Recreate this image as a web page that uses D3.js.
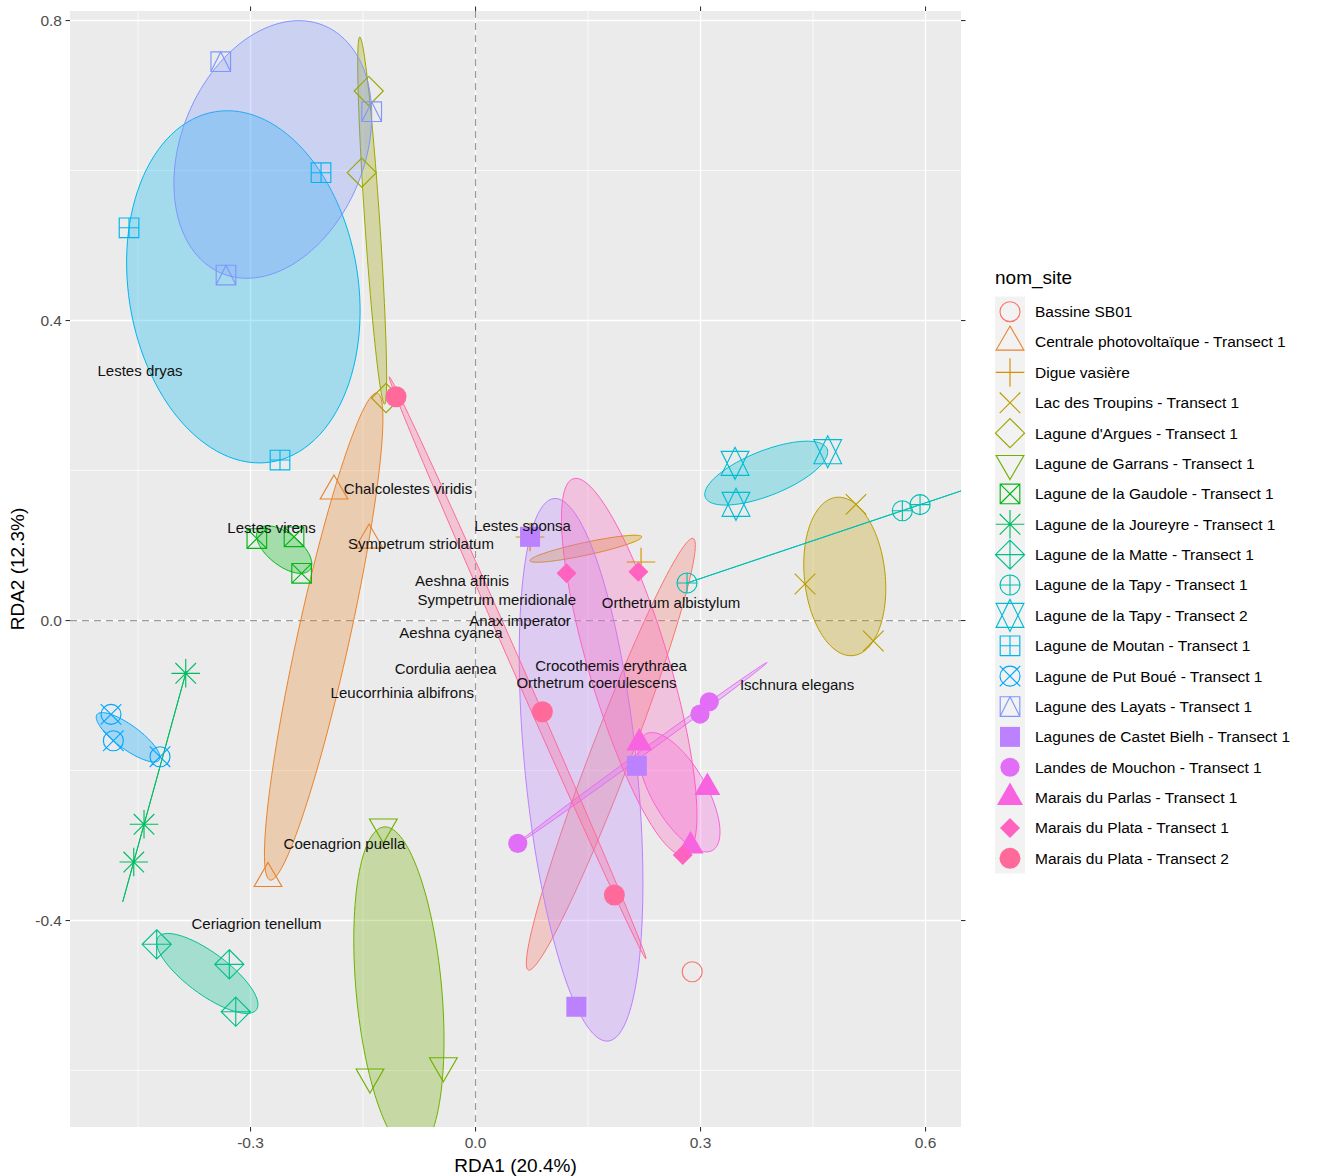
<!DOCTYPE html>
<html><head><meta charset="utf-8">
<script src="https://cdn.jsdelivr.net/npm/d3@7"></script>
<style>
body{margin:0;background:#fff;}
text{font-family:"Liberation Sans", Arial, Helvetica, sans-serif;}
</style>
</head><body>
<svg id="chart" width="1317" height="1176"></svg>
<script>
// ---------------- DATA ----------------
const sites = ["Bassine SB01", "Centrale photovoltaïque - Transect 1", "Digue vasière",
  "Lac des Troupins - Transect 1", "Lagune d'Argues - Transect 1", "Lagune de Garrans - Transect 1",
  "Lagune de la Gaudole - Transect 1", "Lagune de la Joureyre - Transect 1", "Lagune de la Matte - Transect 1",
  "Lagune de la Tapy - Transect 1", "Lagune de la Tapy - Transect 2", "Lagune de Moutan - Transect 1",
  "Lagune de Put Boué - Transect 1", "Lagune des Layats - Transect 1", "Lagunes de Castet Bielh - Transect 1",
  "Landes de Mouchon - Transect 1", "Marais du Parlas - Transect 1", "Marais du Plata - Transect 1",
  "Marais du Plata - Transect 2"];
const siteShapes = [1,2,3,4,5,6,7,8,9,10,11,12,13,14,15,16,17,18,19];

// site scores (RDA1, RDA2), one sub-array per site
const siteRDA1 = [
  [0.2889],
  [-0.1887, -0.1420, -0.2767],
  [0.0727, 0.2207],
  [0.5073, 0.4393, 0.5304],
  [-0.1424, -0.1517, -0.1193],
  [-0.1229, -0.1407, -0.0429],
  [-0.2916, -0.2420, -0.2319],
  [-0.3864, -0.4420, -0.4557],
  [-0.4251, -0.3283, -0.3197],
  [0.2820, 0.5691, 0.5927],
  [0.3460, 0.4696, 0.3473],
  [-0.4620, -0.2060, -0.2607],
  [-0.4860, -0.4829, -0.4207],
  [-0.3397, -0.1384, -0.3327],
  [0.0727, 0.2151, 0.1344],
  [0.0563, 0.3117, 0.2993],
  [0.2184, 0.3091, 0.2867],
  [0.1213, 0.2171, 0.2763],
  [-0.1060, 0.0891, 0.1851]
];
const siteRDA2 = [
  [-0.4683],
  [0.1727, 0.1073, -0.3440],
  [0.1113, 0.0780],
  [0.1549, 0.0487, -0.0273],
  [0.7060, 0.5971, 0.2967],
  [-0.2753, -0.6087, -0.5936],
  [0.1093, 0.1116, 0.0629],
  [-0.0704, -0.2717, -0.3220],
  [-0.4317, -0.4584, -0.5216],
  [0.0500, 0.1464, 0.1545],
  [0.2096, 0.2251, 0.1549],
  [0.5237, 0.5971, 0.2140],
  [-0.1251, -0.1603, -0.1816],
  [0.7451, 0.6784, 0.4607],
  [0.1116, -0.1937, -0.5150],
  [-0.2971, -0.1083, -0.1247],
  [-0.1633, -0.2227, -0.3007],
  [0.0629, 0.0651, -0.3127],
  [0.2984, -0.1216, -0.3660]
];

// ellipses for sites whose points do not define them
const fixedEllipseSite  = ["Bassine SB01", "Digue vasière"];
const fixedEllipseRDA1  = [0.1804, 0.1471];
const fixedEllipseRDA2  = [-0.1783, 0.0957];
const fixedEllipseMajor = [0.3080, 0.0762];
const fixedEllipseMinor = [0.0267, 0.0085];
const fixedEllipseAngle = [69.1, 12.1];

// species labels
const species = ["Lestes dryas", "Chalcolestes viridis", "Lestes virens", "Lestes sponsa",
  "Sympetrum striolatum", "Aeshna affinis", "Sympetrum meridionale", "Orthetrum albistylum",
  "Anax imperator", "Aeshna cyanea", "Cordulia aenea", "Crocothemis erythraea",
  "Orthetrum coerulescens", "Leucorrhinia albifrons", "Ischnura elegans", "Coenagrion puella",
  "Ceriagrion tenellum"];
const speciesRDA1 = [-0.4473, -0.0900, -0.2720, 0.0627, -0.0727, -0.0180, 0.0284, 0.2607,
  0.0593, -0.0327, -0.0400, 0.1807, 0.1613, -0.0976, 0.4287, -0.1747, -0.2920];
const speciesRDA2 = [0.3327, 0.1753, 0.1233, 0.1260, 0.1020, 0.0527, 0.0273, 0.0238,
  -0.0007, -0.0160, -0.0637, -0.0607, -0.0825, -0.0962, -0.0851, -0.2971, -0.4047];

const xLimits = [-0.5407, 0.6473];
const yLimits = [-0.6753, 0.8127];
const xBreaks = [-0.3, 0.0, 0.3, 0.6];
const xBreakLabels = ["-0.3", "0.0", "0.3", "0.6"];
const xMinor = [-0.45, -0.15, 0.15, 0.45];
const yBreaks = [-0.4, 0.0, 0.4, 0.8];
const yBreakLabels = ["-0.4", "0.0", "0.4", "0.8"];
const yMinor = [-0.6, -0.2, 0.2, 0.6];
const xTitle = "RDA1 (20.4%)";
const yTitle = "RDA2 (12.3%)";
const legendTitle = "nom_site";

// ---------------- COLOURS (ggplot2 hue palette, polar LUV) ----------------
function hclHex(h, c, l) {
  const WX = 95.047, WY = 100.0, WZ = 108.883;
  const hr = h * Math.PI / 180;
  const U = c * Math.cos(hr), V = c * Math.sin(hr);
  const Y = WY * (l > 7.999592 ? Math.pow((l + 16) / 116, 3) : l / 903.3);
  const den = WX + 15 * WY + 3 * WZ;
  const uN = 4 * WX / den, vN = 9 * WY / den;
  const u = U / (13 * l) + uN, v = V / (13 * l) + vN;
  const X = 9.0 * Y * u / (4 * v);
  const Z = -X / 3 - 5 * Y + 3 * Y / v;
  const g = t => t > 0.00304 ? 1.055 * Math.pow(t, 1 / 2.4) - 0.055 : 12.92 * t;
  const cl = t => Math.max(0, Math.min(255, Math.round(255 * g(t))));
  const r = cl((3.240479 * X - 1.537150 * Y - 0.498535 * Z) / WY);
  const gg = cl((-0.969256 * X + 1.875992 * Y + 0.041556 * Z) / WY);
  const b = cl((0.055648 * X - 0.204043 * Y + 1.057311 * Z) / WY);
  return d3.rgb(r, gg, b).formatHex();
}
const nS = sites.length;
const colors = sites.map((s, i) => hclHex(15 + i * 360 / nS, 100, 65));
const colorOf = d3.scaleOrdinal().domain(sites).range(colors);

// ---------------- LAYOUT ----------------
const svg = d3.select("#chart");
const P = {left: 70, right: 961, top: 11, bottom: 1127};
const x = d3.scaleLinear().domain(xLimits).range([P.left, P.right]);
const y = d3.scaleLinear().domain(yLimits).range([P.bottom, P.top]);

svg.append("defs").append("clipPath").attr("id", "panelClip")
  .append("rect").attr("x", P.left).attr("y", P.top)
  .attr("width", P.right - P.left).attr("height", P.bottom - P.top);

svg.append("rect").attr("x", P.left).attr("y", P.top)
  .attr("width", P.right - P.left).attr("height", P.bottom - P.top).attr("fill", "#EBEBEB");

const grid = svg.append("g");
grid.selectAll(".xmin").data(xMinor).join("line")
  .attr("x1", d => x(d)).attr("x2", d => x(d)).attr("y1", P.top).attr("y2", P.bottom)
  .attr("stroke", "#fff").attr("stroke-width", 0.7);
grid.selectAll(".ymin").data(yMinor).join("line")
  .attr("y1", d => y(d)).attr("y2", d => y(d)).attr("x1", P.left).attr("x2", P.right)
  .attr("stroke", "#fff").attr("stroke-width", 0.7);
grid.selectAll(".xmaj").data(xBreaks).join("line")
  .attr("x1", d => x(d)).attr("x2", d => x(d)).attr("y1", P.top).attr("y2", P.bottom)
  .attr("stroke", "#fff").attr("stroke-width", 1.4);
grid.selectAll(".ymaj").data(yBreaks).join("line")
  .attr("y1", d => y(d)).attr("y2", d => y(d)).attr("x1", P.left).attr("x2", P.right)
  .attr("stroke", "#fff").attr("stroke-width", 1.4);

const panel = svg.append("g").attr("clip-path", "url(#panelClip)");

// zero reference lines
panel.append("line").attr("x1", x(0)).attr("x2", x(0)).attr("y1", P.top).attr("y2", P.bottom)
  .attr("stroke", "#9a9a9a").attr("stroke-width", 1.2).attr("stroke-dasharray", "7,5");
panel.append("line").attr("y1", y(0)).attr("y2", y(0)).attr("x1", P.left).attr("x2", P.right)
  .attr("stroke", "#9a9a9a").attr("stroke-width", 1.2).attr("stroke-dasharray", "7,5");

// ---------------- ELLIPSES ----------------
function ellipsePts(cx, cy, a, b, theta) {
  const pts = [];
  for (let k = 0; k < 120; k++) {
    const t = 2 * Math.PI * k / 120;
    pts.push([cx + a * Math.cos(t) * Math.cos(theta) - b * Math.sin(t) * Math.sin(theta),
              cy + a * Math.cos(t) * Math.sin(theta) + b * Math.sin(t) * Math.cos(theta)]);
  }
  return pts;
}
function covEllipse(xs, ys) {
  const n = xs.length;
  const mx = d3.mean(xs), my = d3.mean(ys);
  let sxx = 0, syy = 0, sxy = 0;
  for (let i = 0; i < n; i++) {
    const dx = xs[i] - mx, dy = ys[i] - my;
    sxx += dx * dx; syy += dy * dy; sxy += dx * dy;
  }
  sxx /= n; syy /= n; sxy /= n;
  const tr = sxx + syy, det = sxx * syy - sxy * sxy;
  const disc = Math.sqrt(Math.max(tr * tr / 4 - det, 0));
  const l1 = tr / 2 + disc, l2 = Math.max(tr / 2 - disc, 0);
  const theta = 0.5 * Math.atan2(2 * sxy, sxx - syy);
  const rad = Math.sqrt(2);
  return ellipsePts(mx, my, rad * Math.sqrt(l1), rad * Math.sqrt(l2), theta);
}
const ellipses = [];
sites.forEach((s, i) => {
  const fi = fixedEllipseSite.indexOf(s);
  if (fi >= 0) {
    ellipses.push({site: s, pts: ellipsePts(fixedEllipseRDA1[fi], fixedEllipseRDA2[fi],
      fixedEllipseMajor[fi], fixedEllipseMinor[fi], fixedEllipseAngle[fi] * Math.PI / 180)});
  } else if (siteRDA1[i].length >= 3) {
    ellipses.push({site: s, pts: covEllipse(siteRDA1[i], siteRDA2[i])});
  }
});
const line = d3.line().x(d => x(d[0])).y(d => y(d[1])).curve(d3.curveLinearClosed);
panel.selectAll(".ell").data(ellipses).join("path")
  .attr("d", d => line(d.pts))
  .attr("fill", d => colorOf(d.site)).attr("fill-opacity", 0.3)
  .attr("stroke", d => colorOf(d.site)).attr("stroke-width", 1);

// ---------------- POINT SHAPES ----------------
const R = 10.3;
const S2 = Math.SQRT2, TRC0 = 1.55512030155621416073, TRC1 = 1.34677368708859836060, TRC2 = 0.77756015077810708036;
function circ(r) { return `M${-r},0A${r},${r} 0 1,0 ${r},0A${r},${r} 0 1,0 ${-r},0Z`; }
function sq(s) { return `M${-s},${-s}H${s}V${s}H${-s}Z`; }
function plus(a) { return `M${-a},0H${a}M0,${-a}V${a}`; }
function cross(a) { return `M${-a},${-a}L${a},${a}M${-a},${a}L${a},${-a}`; }
function diam(a) { return `M0,${-a}L${a},0L0,${a}L${-a},0Z`; }
function triUp(r) { const xc = r * Math.sqrt(3) / 2, yc = r / 2; return `M0,${-r}L${xc},${yc}L${-xc},${yc}Z`; }
function triDown(r) { const xc = r * Math.sqrt(3) / 2, yc = r / 2; return `M0,${r}L${xc},${-yc}L${-xc},${-yc}Z`; }
function shapeSpec(pch) {
  const s = 9.8;
  switch (pch) {
    case 1: return {d: circ(R * 0.97), fill: false};
    case 2: return {d: triUp(TRC0 * R), fill: false};
    case 3: return {d: plus(S2 * R * 0.98), fill: false};
    case 4: return {d: cross(R), fill: false};
    case 5: return {d: diam(S2 * R), fill: false};
    case 6: return {d: triDown(TRC0 * R), fill: false};
    case 7: return {d: sq(s) + cross(s), fill: false};
    case 8: return {d: cross(R) + plus(S2 * R * 0.98), fill: false};
    case 9: return {d: diam(S2 * R) + plus(S2 * R), fill: false};
    case 10: return {d: circ(R * 0.97) + plus(R * 0.97), fill: false};
    case 11: {
      const r = TRC0 * R, yc = 0.5 * (TRC2 * R + r), xc = TRC1 * R;
      return {d: `M0,${-r}L${xc},${yc}L${-xc},${yc}Z M0,${r}L${xc},${-yc}L${-xc},${-yc}Z`, fill: false};
    }
    case 12: return {d: sq(s) + plus(s), fill: false};
    case 13: return {d: circ(R * 0.97) + cross(R), fill: false};
    case 14: return {d: sq(s) + `M${-s},${s}L0,${-s}L${s},${s}`, fill: false};
    case 15: return {d: sq(10), fill: true};
    case 16: return {d: circ(9.6), fill: true};
    case 17: return {d: triUp(15), fill: true};
    case 18: return {d: diam(10), fill: true};
    case 19: return {d: circ(10.5), fill: true};
  }
}
function drawShape(g, pch, cx, cy, col) {
  const sp = shapeSpec(pch);
  g.append("path").attr("d", sp.d).attr("transform", `translate(${cx},${cy})`)
    .attr("fill", sp.fill ? col : "none").attr("stroke", sp.fill ? "none" : col)
    .attr("stroke-width", 1.15).attr("stroke-linejoin", "miter");
}

const pointsG = panel.append("g");
sites.forEach((s, i) => {
  siteRDA1[i].forEach((vx, j) => {
    drawShape(pointsG, siteShapes[i], x(vx), y(siteRDA2[i][j]), colorOf(s));
  });
});

// ---------------- SPECIES LABELS ----------------
panel.append("g").selectAll("text").data(species).join("text")
  .attr("x", (d, i) => x(speciesRDA1[i])).attr("y", (d, i) => y(speciesRDA2[i]))
  .attr("dy", "0.35em").attr("text-anchor", "middle")
  .attr("font-size", 15).attr("fill", "#111").text(d => d);

// ---------------- AXES ----------------
const tickCol = "#333333", tl = 4.5;
const axes = svg.append("g");
xBreaks.forEach((v, i) => {
  axes.append("line").attr("x1", x(v)).attr("x2", x(v)).attr("y1", P.bottom).attr("y2", P.bottom + tl)
    .attr("stroke", tickCol).attr("stroke-width", 1.1);
  axes.append("line").attr("x1", x(v)).attr("x2", x(v)).attr("y1", P.top - tl).attr("y2", P.top)
    .attr("stroke", tickCol).attr("stroke-width", 1.1);
  axes.append("text").attr("x", x(v)).attr("y", P.bottom + 16).attr("dy", "0.35em")
    .attr("text-anchor", "middle").attr("font-size", 15.5).attr("fill", "#4D4D4D").text(xBreakLabels[i]);
});
yBreaks.forEach((v, i) => {
  axes.append("line").attr("y1", y(v)).attr("y2", y(v)).attr("x1", P.left - tl).attr("x2", P.left)
    .attr("stroke", tickCol).attr("stroke-width", 1.1);
  axes.append("line").attr("y1", y(v)).attr("y2", y(v)).attr("x1", P.right).attr("x2", P.right + tl)
    .attr("stroke", tickCol).attr("stroke-width", 1.1);
  axes.append("text").attr("x", P.left - 8).attr("y", y(v)).attr("dy", "0.35em")
    .attr("text-anchor", "end").attr("font-size", 15.5).attr("fill", "#4D4D4D").text(yBreakLabels[i]);
});
axes.append("text").attr("x", (P.left + P.right) / 2).attr("y", 1165).attr("dy", "0.35em")
  .attr("text-anchor", "middle").attr("font-size", 19).attr("fill", "#000").text(xTitle);
axes.append("text").attr("transform", `translate(17,${(P.top + P.bottom) / 2}) rotate(-90)`)
  .attr("dy", "0.35em").attr("text-anchor", "middle").attr("font-size", 19).attr("fill", "#000").text(yTitle);

// ---------------- LEGEND ----------------
const L = {x: 995, titleY: 277, firstY: 311.7, step: 30.37, key: 30};
const leg = svg.append("g");
leg.append("text").attr("x", L.x).attr("y", L.titleY).attr("dy", "0.35em")
  .attr("font-size", 19).attr("fill", "#000").text(legendTitle);
leg.append("rect").attr("x", L.x).attr("y", L.firstY - L.step / 2)
  .attr("width", L.key).attr("height", L.step * nS).attr("fill", "#F2F2F2");
sites.forEach((s, i) => {
  const cy = L.firstY + i * L.step;
  drawShape(leg, siteShapes[i], L.x + L.key / 2, cy, colorOf(s));
  leg.append("text").attr("x", L.x + 40).attr("y", cy).attr("dy", "0.35em")
    .attr("font-size", 15.5).attr("fill", "#000").text(s);
});
</script>
</body></html>
